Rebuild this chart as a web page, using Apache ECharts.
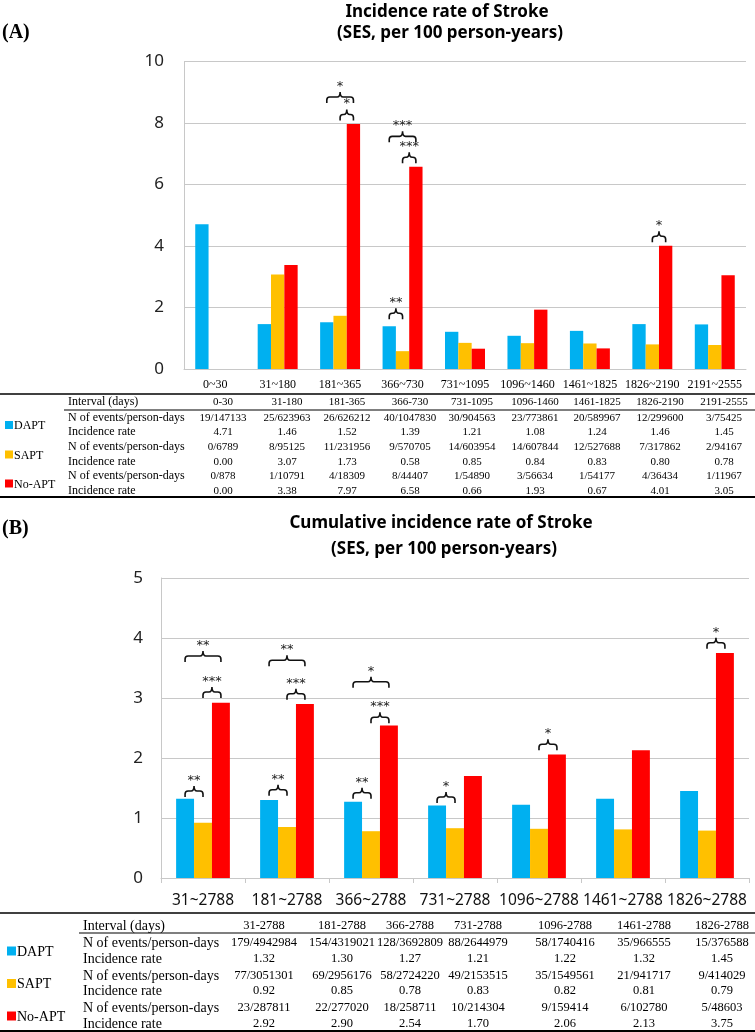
<!DOCTYPE html>
<html><head><meta charset="utf-8">
<script src="https://cdn.jsdelivr.net/npm/echarts@6/dist/echarts.min.js"></script>
<style>html,body{margin:0;padding:0;background:#fff}#c{width:755px;height:1032px}</style>
</head><body><div id="c"></div>
<script>
// ---------- DATA ----------
const groups = ['DAPT', 'SAPT', 'No-APT'];

// Panel A: incidence rate by interval
const catsA = ['0~30','31~180','181~365','366~730','731~1095','1096~1460','1461~1825','1826~2190','2191~2555'];
const intervalsA = ['0-30','31-180','181-365','366-730','731-1095','1096-1460','1461-1825','1826-2190','2191-2555'];
const daptA = [4.71,1.46,1.52,1.39,1.21,1.08,1.24,1.46,1.45];
const saptA = [0.00,3.07,1.73,0.58,0.85,0.84,0.83,0.80,0.78];
const noaptA = [0.00,3.38,7.97,6.58,0.66,1.93,0.67,4.01,3.05];
const daptEventsA = ['19/147133','25/623963','26/626212','40/1047830','30/904563','23/773861','20/589967','12/299600','3/75425'];
const saptEventsA = ['0/6789','8/95125','11/231956','9/570705','14/603954','14/607844','12/527688','7/317862','2/94167'];
const noaptEventsA = ['0/878','1/10791','4/18309','8/44407','1/54890','3/56634','1/54177','4/36434','1/11967'];
// significance brackets: [category index, pair, value at bracket tips, stars]
const sigA = [[2,'DN',8.65,'*'],[2,'SN',8.08,'*'],[3,'DN',7.37,'***'],[3,'SN',6.69,'***'],[3,'DS',1.62,'**'],[7,'SN',4.12,'*']];

// Panel B: cumulative incidence rate
const catsB = ['31~2788','181~2788','366~2788','731~2788','1096~2788','1461~2788','1826~2788'];
const intervalsB = ['31-2788','181-2788','366-2788','731-2788','1096-2788','1461-2788','1826-2788'];
const daptB = [1.32,1.30,1.27,1.21,1.22,1.32,1.45];
const saptB = [0.92,0.85,0.78,0.83,0.82,0.81,0.79];
const noaptB = [2.92,2.90,2.54,1.70,2.06,2.13,3.75];
const daptEventsB = ['179/4942984','154/4319021','128/3692809','88/2644979','58/1740416','35/966555','15/376588'];
const saptEventsB = ['77/3051301','69/2956176','58/2724220','49/2153515','35/1549561','21/941717','9/414029'];
const noaptEventsB = ['23/287811','22/277020','18/258711','10/214304','9/159414','6/102780','5/48603'];
const sigB = [[0,'DN',3.60,'**'],[0,'SN',3.00,'***'],[0,'DS',1.35,'**'],[1,'DN',3.53,'**'],[1,'SN',2.97,'***'],[1,'DS',1.37,'**'],[2,'DN',3.17,'*'],[2,'SN',2.58,'***'],[2,'DS',1.32,'**'],[3,'DS',1.25,'*'],[4,'SN',2.13,'*'],[6,'SN',3.82,'*']];

// ---------- STYLE / LAYOUT ----------
const COLORS = ['#00B0F0', '#FFC000', '#FF0000'];
const GAP = 0.36;
const SERIF = '"Liberation Serif", "Times New Roman", serif';
const SANS = '"Noto Sans", "Open Sans", sans-serif';
const GRID_COLOR = '#c8c8c8';

function bracketRenderer(sig) {
  return function (params, api) {
    const s = sig[params.dataIndex];
    const p = api.coord([api.value(0), api.value(1)]);
    const cw = api.size([1, 0])[0];
    const bw = cw * (1 - GAP) / 3;
    const off = { D: -bw, S: 0, N: bw };
    const x1 = p[0] + off[s[1][0]], x2 = p[0] + off[s[1][1]];
    const xm = (x1 + x2) / 2, yt = p[1], yl = yt - 6, yn = yl - 5, r = 3;
    const d = `M${x1} ${yt}L${x1} ${yl + r}Q${x1} ${yl} ${x1 + r} ${yl}L${xm - r} ${yl}Q${xm} ${yl} ${xm} ${yn}Q${xm} ${yl} ${xm + r} ${yl}L${x2 - r} ${yl}Q${x2} ${yl} ${x2} ${yl + r}L${x2} ${yt}`;
    return { type: 'group', children: [
      { type: 'path', shape: { pathData: d }, style: { fill: 'none', stroke: '#111', lineWidth: 1.6 } },
      { type: 'text', x: xm, y: yn + 1, style: { text: s[3], font: '13px "DejaVu Sans"', fill: '#222', align: 'center', verticalAlign: 'bottom' } }
    ] };
  };
}

function barSeries(data, idx, axis) {
  return { type: 'bar', name: groups[idx], data: data, xAxisIndex: axis, yAxisIndex: axis,
    barGap: '0%', barCategoryGap: (GAP * 100) + '%', itemStyle: { color: COLORS[idx] }, z: 2 };
}

function txt(x, y, text, font, align, extra) {
  return Object.assign({ type: 'text', x: x, y: y, silent: true,
    style: { text: text, font: font, fill: '#000', align: align || 'left', verticalAlign: 'middle' } }, extra || {});
}
function hline(x1, x2, y, w) {
  return { type: 'line', silent: true, shape: { x1: x1, y1: y, x2: x2, y2: y }, style: { stroke: '#000', lineWidth: w } };
}

function table(cfg) {
  const els = [];
  const f = cfg.fs + 'px ' + SERIF;
  const fn = cfg.nfs + 'px ' + SERIF;
  els.push(hline(0, 755, cfg.top, 1.6));
  els.push(hline(cfg.labelX - 4, 755, cfg.under, 1.2));
  els.push(hline(0, 755, cfg.bottom, 2));
  els.push(txt(cfg.labelX, cfg.head, 'Interval (days)', f));
  cfg.intervals.forEach((v, i) => els.push(txt(cfg.cols[i], cfg.head, v, fn, 'center')));
  for (let g = 0; g < 3; g++) {
    const yN = cfg.rows[g * 2], yR = cfg.rows[g * 2 + 1];
    const yG = (yN + yR) / 2;
    els.push({ type: 'rect', silent: true, shape: { x: cfg.sqX, y: yG - cfg.sq / 2, width: cfg.sq, height: cfg.sq }, style: { fill: COLORS[g] } });
    els.push(txt(cfg.sqX + cfg.sq + 1, yG + 1, groups[g], cfg.gfs + 'px ' + SERIF));
    els.push(txt(cfg.labelX, yN, 'N of events/person-days', f));
    els.push(txt(cfg.labelX, yR, 'Incidence rate', f));
    cfg.ev[g].forEach((v, i) => els.push(txt(cfg.cols[i], yN, v, fn, 'center')));
    cfg.rates[g].forEach((v, i) => els.push(txt(cfg.cols[i], yR, v.toFixed(2), fn, 'center')));
  }
  return els;
}

const graphics = [].concat(
  [
    txt(2, 33, '(A)', 'bold 20px ' + SERIF),
    txt(447, 12, 'Incidence rate of Stroke', 'bold 17px ' + SANS, 'center'),
    txt(450, 33, '(SES, per 100 person-years)', 'bold 17px ' + SANS, 'center'),
    txt(2, 529, '(B)', 'bold 20px ' + SERIF),
    txt(441, 523, 'Cumulative incidence rate of Stroke', 'bold 17px ' + SANS, 'center'),
    txt(444, 549, '(SES, per 100 person-years)', 'bold 17px ' + SANS, 'center')
  ],
  table({ top: 394, under: 410, bottom: 497, head: 402, rows: [418, 432, 447, 462, 476, 491],
    labelX: 68, sqX: 5, sq: 8, fs: 12, nfs: 11, gfs: 12,
    cols: [223, 287, 347, 410, 472, 535, 597, 660, 724],
    intervals: intervalsA, ev: [daptEventsA, saptEventsA, noaptEventsA], rates: [daptA, saptA, noaptA] }),
  table({ top: 913, under: 933, bottom: 1031, head: 926, rows: [943, 959, 976, 991, 1008, 1024],
    labelX: 83, sqX: 7, sq: 9, fs: 14, nfs: 12.5, gfs: 14,
    cols: [264, 342, 410, 478, 565, 644, 722],
    intervals: intervalsB, ev: [daptEventsB, saptEventsB, noaptEventsB], rates: [daptB, saptB, noaptB] })
);

const chart = echarts.init(document.getElementById('c'), null, { renderer: 'canvas' });
chart.setOption({
  animation: false,
  backgroundColor: '#fff',
  grid: [
    { left: 184, top: 61.5, width: 562, height: 307.5 },
    { left: 161, top: 578, width: 588, height: 300 }
  ],
  xAxis: [
    { type: 'category', gridIndex: 0, data: catsA,
      axisLine: { lineStyle: { color: GRID_COLOR, width: 1 } }, axisTick: { show: false },
      axisLabel: { interval: 0, margin: 10, color: '#000', fontFamily: SERIF, fontSize: 12 } },
    { type: 'category', gridIndex: 1, data: catsB,
      axisLine: { lineStyle: { color: GRID_COLOR, width: 1 } },
      axisTick: { show: true, length: 5, lineStyle: { color: GRID_COLOR } },
      axisLabel: { interval: 0, margin: 15, color: '#111', fontFamily: SANS, fontSize: 15.5 } }
  ],
  yAxis: [
    { type: 'value', gridIndex: 0, min: 0, max: 10, interval: 2,
      axisLine: { show: true, lineStyle: { color: GRID_COLOR } }, axisTick: { show: false },
      splitLine: { lineStyle: { color: GRID_COLOR } },
      axisLabel: { margin: 20, color: '#222', fontFamily: SANS, fontSize: 17 } },
    { type: 'value', gridIndex: 1, min: 0, max: 5, interval: 1,
      axisLine: { show: true, lineStyle: { color: GRID_COLOR } }, axisTick: { show: false },
      splitLine: { lineStyle: { color: GRID_COLOR } },
      axisLabel: { margin: 18, color: '#222', fontFamily: SANS, fontSize: 17 } }
  ],
  series: [
    barSeries(daptA, 0, 0), barSeries(saptA, 1, 0), barSeries(noaptA, 2, 0),
    barSeries(daptB, 0, 1), barSeries(saptB, 1, 1), barSeries(noaptB, 2, 1),
    { type: 'custom', xAxisIndex: 0, yAxisIndex: 0, silent: true, clip: false, z: 5,
      data: sigA.map(s => [s[0], s[2]]), encode: { x: 0, y: 1 }, renderItem: bracketRenderer(sigA) },
    { type: 'custom', xAxisIndex: 1, yAxisIndex: 1, silent: true, clip: false, z: 5,
      data: sigB.map(s => [s[0], s[2]]), encode: { x: 0, y: 1 }, renderItem: bracketRenderer(sigB) }
  ],
  graphic: graphics
});
</script>
</body></html>
